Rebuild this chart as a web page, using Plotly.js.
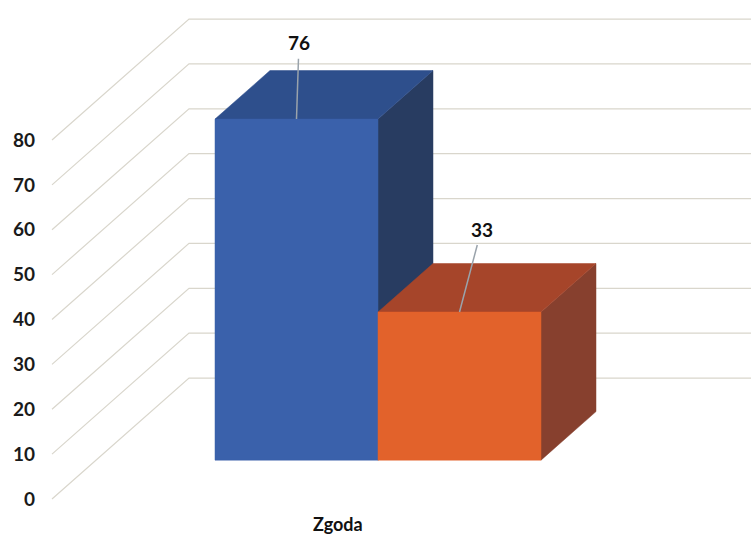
<!DOCTYPE html>
<html>
<head>
<meta charset="utf-8">
<script src="https://cdn.plot.ly/plotly-3.0.1.min.js"></script>
<style>html,body{margin:0;padding:0;background:#fff;}#chart{width:751px;height:536px;}</style>
</head>
<body>
<div id="chart"></div>
<script>
// ---- data ----
const categories = ['Zgoda'];
const seriesValues = [76, 33];
const tickValues = [0, 10, 20, 30, 40, 50, 60, 70, 80];
const tickLabels = ['0', '10', '20', '30', '40', '50', '60', '70', '80'];

// ---- styles / geometry config ----
const frontColors = ['#3a61ab', '#e2622b'];
const topColors   = ['#2e4f8c', '#a6452a'];
const sideColors  = ['#283c61', '#87402e'];
const gridColor = '#d9d6cc';
const PX = 4.4875;        // pixels per value unit
const K = 0.883;          // oblique slope (dy/dx)
const X0 = 52;            // left front edge of the floor
const WALL = 137;         // depth of back wall
const DF = 44, DB = 99;   // bar front / back depth
const GROUP_LEFT = 171, BAR_W = 163;
const labelDx = [2.5, 22];
const labelRise = [17, 18.5];
const FONT = 'Lato, "Open Sans", sans-serif';

function proj(x, v, d) { return [x + d, v + d * K / PX]; }

const traces = [];
// gridlines: diagonal side wall + horizontal back wall
tickValues.forEach(v => {
  const a = proj(X0, v, 0), b = proj(X0, v, WALL);
  traces.push({x: [a[0], b[0], 760], y: [a[1], b[1], b[1]], mode: 'lines',
    line: {color: gridColor, width: 1.2}, hoverinfo: 'skip', showlegend: false});
});

function poly(pts, color) {
  traces.push({x: pts.map(p => p[0]).concat([pts[0][0]]), y: pts.map(p => p[1]).concat([pts[0][1]]),
    mode: 'lines', fill: 'toself', fillcolor: color, line: {color: color, width: 0.5},
    hoverinfo: 'skip', showlegend: false});
}

const annotations = [];
seriesValues.forEach((v, i) => {
  const l = GROUP_LEFT + i * BAR_W, r = l + BAR_W;
  poly([proj(r, 0, DF), proj(r, 0, DB), proj(r, v, DB), proj(r, v, DF)], sideColors[i]);
  poly([proj(l, v, DF), proj(r, v, DF), proj(r, v, DB), proj(l, v, DB)], topColors[i]);
  poly([proj(l, 0, DF), proj(r, 0, DF), proj(r, v, DF), proj(l, v, DF)], frontColors[i]);
  const c = proj((l + r) / 2, v, DF);
  annotations.push({x: c[0], y: c[1], ax: c[0] + labelDx[i], ay: c[1] + labelRise[i],
    axref: 'x', ayref: 'y', xref: 'x', yref: 'y', text: String(v), showarrow: true,
    arrowhead: 0, arrowwidth: 1.5, arrowcolor: '#9aa3ab', startstandoff: 3,
    font: {family: FONT, size: 19, color: '#111', weight: 700}});
});

const groupCenter = GROUP_LEFT + BAR_W * seriesValues.length / 2;
annotations.push({x: groupCenter + 4, y: -5.5, xref: 'x', yref: 'y', text: categories[0],
  showarrow: false, font: {family: FONT, size: 18, color: '#111', weight: 700}});

const layout = {
  width: 751, height: 536,
  margin: {l: 48, r: 0, t: 0, b: 0},
  paper_bgcolor: '#fff', plot_bgcolor: '#fff',
  showlegend: false, hovermode: false,
  xaxis: {range: [48, 751], visible: false, fixedrange: true},
  yaxis: {range: [-37 / PX, 499 / PX], tickvals: tickValues, ticktext: tickLabels,
    showgrid: false, zeroline: false, showline: false, ticks: '', ticklabelstandoff: 12,
    tickfont: {family: FONT, size: 19, color: '#1a1a1a', weight: 700}, fixedrange: true},
  annotations: annotations
};
Plotly.newPlot('chart', traces, layout, {staticPlot: true, displayModeBar: false});
</script>
</body>
</html>
